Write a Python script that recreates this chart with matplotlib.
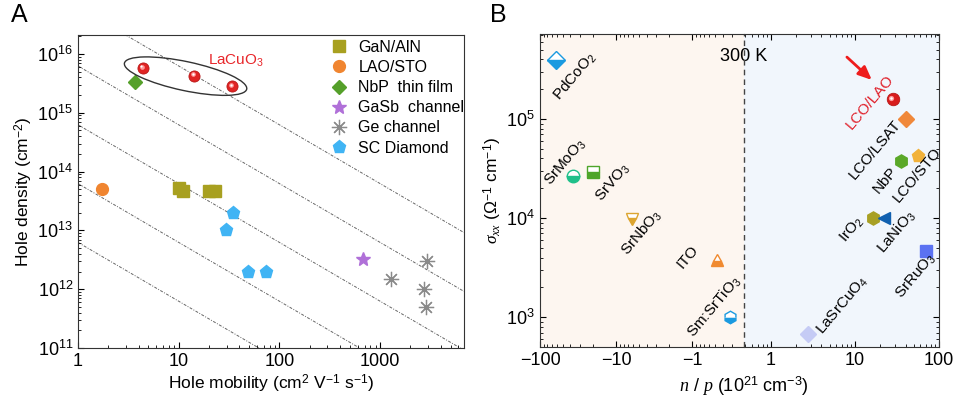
import numpy as np
import matplotlib
matplotlib.use("Agg")
import matplotlib.pyplot as plt
import matplotlib.transforms as mtransforms
from matplotlib.patches import Ellipse
from matplotlib.ticker import LogLocator, FuncFormatter, NullFormatter, FixedLocator

plt.rcParams['font.family'] = ['Liberation Sans', 'DejaVu Sans']
plt.rcParams['mathtext.fontset'] = 'custom'
plt.rcParams['mathtext.rm'] = 'Liberation Sans'
plt.rcParams['mathtext.it'] = 'Liberation Serif:italic'
plt.rcParams['mathtext.bf'] = 'Liberation Sans:bold'

# ---------------- Panel A data ----------------
lacuo_mu = [4.4, 14.2, 34]
lacuo_n = [5.8e15, 4.3e15, 2.8e15]
gan_mu = [10, 11, 20, 23]
gan_n = [5.3e13, 4.6e13, 4.6e13, 4.6e13]
lao_mu = [1.73]
lao_n = [5.0e13]
nbp_mu = [3.7]
nbp_n = [3.3e15]
gasb_mu = [680]
gasb_n = [3.3e12]
ge_mu = [1270, 2900, 2750, 2850]
ge_n = [1.5e12, 3.0e12, 1.0e12, 5.0e11]
dia_mu = [34.4, 29.5, 49, 73]
dia_n = [2.0e13, 1.0e13, 2.0e12, 2.0e12]
const_products = [6.25e12, 6.25e13, 6.25e14, 6.25e15, 6.25e16]

# ---------------- Panel B data ----------------
neg_names = ['PdCoO$_2$', 'SrMoO$_3$', 'SrVO$_3$', 'SrNbO$_3$', 'ITO', 'Sm:SrTiO$_3$']
neg_n = [62, 37, 20, 6.3, 0.47, 0.32]          # magnitude of negative n
neg_sigma = [3.9e5, 2.67e4, 2.9e4, 9.8e3, 3.8e3, 1.0e3]
neg_marker = ['D', 'o', 's', 'v', '^', 'h']
neg_color = ['#1a9ae0', '#1fc08a', '#4ea52a', '#dca530', '#f08a30', '#1a9ae0']
neg_lab_x = [34.9, 45.7, 11.1, 4.64, 1.16, 0.515]
neg_lab_y = [2.67e5, 3.6e4, 2.26e4, 7.05e3, 4.04e3, 1.26e3]

pos_names = ['LaSrCuO$_4$', 'LCO/LSAT', 'NbP', 'LCO/STO', 'IrO$_2$', 'LaNiO$_3$', 'SrRuO$_3$']
pos_p = [2.78, 40, 35, 57, 16.2, 22, 71]
pos_sigma = [675, 1.0e5, 3.8e4, 4.2e4, 1.0e4, 1.0e4, 4.7e3]
pos_marker = ['D', 'D', 'h', 'p', 'h', '<', 's']
pos_color = ['#c5cbf5', '#f0883a', '#5aa828', '#f2b23a', '#a8a024', '#1060b0', '#5b72f2']
pos_lab_x = [7.2, 17.3, 22.8, 54.7, 9.2, 31.6, 53.2]
pos_lab_y = [1.32e3, 4.86e4, 2.42e4, 2.72e4, 7.57e3, 7.2e3, 2.6e3]

lcolao_p = [28]
lcolao_sigma = [1.58e5]

fig = plt.figure(figsize=(9.57, 4.05), dpi=100)

# ================= Panel A =================
axA = fig.add_axes([0.0815, 0.1407, 0.4033, 0.7728])
axA.set_xscale('log')
axA.set_yscale('log')
axA.set_xlim(1, 6800)
axA.set_ylim(1e11, 2.1e16)

mu_line = np.logspace(0, np.log10(6800), 200)
for c in const_products:
    axA.plot(mu_line, c / mu_line, color='#666666', lw=0.7,
             ls=(0, (3, 1.5, 1, 1.5)), zorder=1)

def sphere(ax, x, y, ms, color='#e02424'):
    ax.plot(x, y, 'o', ms=ms, color=color, mec='#b81818', mew=0.6, zorder=4, ls='none')
    off = mtransforms.offset_copy(ax.transData, fig=fig, x=-0.8, y=0.9, units='points')
    ax.plot(x, y, 'o', ms=ms * 0.42, color='#ff9a9a', mec='none', zorder=5, ls='none', transform=off)
    off2 = mtransforms.offset_copy(ax.transData, fig=fig, x=-1.0, y=1.1, units='points')
    ax.plot(x, y, 'o', ms=ms * 0.2, color='white', mec='none', zorder=6, ls='none', transform=off2)

sphere(axA, lacuo_mu, lacuo_n, 8)

hG, = axA.plot(gan_mu, gan_n, 's', ms=8.5, color='#a8a020', ls='none', zorder=3)
hL, = axA.plot(lao_mu, lao_n, 'o', ms=8.5, color='#f08530', ls='none', zorder=3)
hN, = axA.plot(nbp_mu, nbp_n, 'D', ms=7.5, color='#55a02a', ls='none', zorder=3)
hS, = axA.plot(gasb_mu, gasb_n, '*', ms=10, color='#b070d8', ls='none', zorder=3)
hGe, = axA.plot(ge_mu, ge_n, marker=(8, 2, 0), ms=11, color='#8a8a8a', mew=0.9, ls='none', zorder=3)
hD, = axA.plot(dia_mu, dia_n, 'p', ms=9.5, color='#40b4f4', ls='none', zorder=3)

# ellipse around LaCuO3
ell = Ellipse((0, 0), width=1.25, height=0.29, angle=-12, fill=False, ec='#333333', lw=1.0,
              transform=fig.dpi_scale_trans + mtransforms.ScaledTranslation(11.7, 4.2e15, axA.transData),
              zorder=3)
axA.add_patch(ell)
axA.text(19.5, 7.6e15, 'LaCuO$_3$', color='#e8262a', fontsize=11, va='center', ha='left')

leg = axA.legend([hG, hL, hN, hS, hGe, hD],
                 ['GaN/AlN', 'LAO/STO', 'NbP  thin film', 'GaSb  channel', 'Ge channel', 'SC Diamond'],
                 loc='upper right', bbox_to_anchor=(1.03, 1.02), frameon=False, fontsize=11.5,
                 handlelength=1.0, handletextpad=0.7, labelspacing=0.32, borderaxespad=0.3)

axA.tick_params(which='both', direction='in', top=False, right=False, labelsize=13)
axA.tick_params(which='major', length=4)
axA.tick_params(which='minor', length=2)
axA.xaxis.set_major_formatter(FuncFormatter(lambda v, p: f"{v:g}"))
axA.set_xlabel('Hole mobility (cm$^2$ V$^{-1}$ s$^{-1}$)', fontsize=12.5, labelpad=2)
axA.set_ylabel('Hole density (cm$^{-2}$)', fontsize=12.5, labelpad=2)
for s in axA.spines.values():
    s.set_color('#333333')
fig.text(0.011, 0.962, 'A', fontsize=18, va='center', ha='left')

# ================= Panel B =================
ylo, yhi = 500, 7.2e5
axL = fig.add_axes([0.5643, 0.1432, 0.2132, 0.7728])
axR = fig.add_axes([0.7774, 0.1432, 0.2038, 0.7728])
for ax in (axL, axR):
    ax.set_xscale('log')
    ax.set_yscale('log')
    ax.set_ylim(ylo, yhi)
axL.set_xlim(100, 0.21)
axR.set_xlim(0.48, 100)
axL.set_facecolor('#fdf6f0')
axR.set_facecolor('#f1f6fc')

for i in range(len(neg_n)):
    axL.plot([neg_n[i]], [neg_sigma[i]], marker=neg_marker[i], ms=9, color=neg_color[i],
             mec=neg_color[i], mfc=neg_color[i], markerfacecoloralt='white', fillstyle='bottom',
             mew=1.0, ls='none', zorder=4, clip_on=False)
    axL.text(neg_lab_x[i], neg_lab_y[i], neg_names[i], rotation=50, fontsize=11,
             ha='center', va='center', rotation_mode='anchor', zorder=5)

for i in range(len(pos_p)):
    ms = 9.5 if pos_marker[i] in ('h', 'p') else 8.5
    axR.plot([pos_p[i]], [pos_sigma[i]], marker=pos_marker[i], ms=ms, color=pos_color[i],
             ls='none', zorder=4)
    axR.text(pos_lab_x[i], pos_lab_y[i], pos_names[i], rotation=50, fontsize=11,
             ha='center', va='center', rotation_mode='anchor', zorder=5)

sphere(axR, lcolao_p, lcolao_sigma, 9, color='#d81c1c')
axR.text(15.1, 1.49e5, 'LCO/LAO', rotation=50, fontsize=11, color='#e0202a',
         ha='center', va='center', rotation_mode='anchor', zorder=5)
axR.annotate('', xy=(16.8, 2.37e5), xytext=(7.6, 4.4e5),
             arrowprops=dict(arrowstyle='-|>,head_length=0.8,head_width=0.35', color='#ee1c1c', lw=2.0))

axR.text(0.48, 4.3e5, '300 K', fontsize=13, ha='center', va='center', zorder=6)

# dividing dashed line at the boundary
axR.axvline(0.48, color='#444444', lw=1.0, ls=(0, (4, 3)), zorder=10, clip_on=False)

# spines / ticks
axL.spines['right'].set_visible(False)
axR.spines['left'].set_visible(False)
for ax in (axL, axR):
    for k in ('top', 'bottom'):
        ax.spines[k].set_color('#333333')
axL.spines['left'].set_color('#333333')
axR.spines['right'].set_color('#333333')

axL.tick_params(which='both', direction='in', top=True, bottom=True, left=True, right=False, labelsize=13)
axR.tick_params(which='both', direction='in', top=True, bottom=True, left=False, right=True,
                labelleft=False, labelsize=13)
for ax in (axL, axR):
    ax.tick_params(which='major', length=4)
    ax.tick_params(which='minor', length=2)

axL.xaxis.set_major_locator(FixedLocator([100, 10, 1]))
axL.xaxis.set_major_formatter(FuncFormatter(lambda v, p: "\u2212" + f"{v:g}"))
axL.xaxis.set_minor_locator(LogLocator(base=10, subs=np.arange(2, 10), numticks=20))
axL.xaxis.set_minor_formatter(NullFormatter())
axR.xaxis.set_major_locator(FixedLocator([1, 10, 100]))
axR.xaxis.set_major_formatter(FuncFormatter(lambda v, p: f"{v:g}"))
axR.xaxis.set_minor_locator(LogLocator(base=10, subs=np.arange(2, 10), numticks=20))
axR.xaxis.set_minor_formatter(NullFormatter())
axR.yaxis.set_major_formatter(NullFormatter())
axR.yaxis.set_minor_formatter(NullFormatter())

axL.set_ylabel(r'$\sigma_{xx}$ ($\Omega^{-1}$ cm$^{-1}$)', fontsize=12.5, labelpad=2)
fig.text(0.7774, 0.045, r'$n$ / $p$ (10$^{21}$ cm$^{-3}$)', fontsize=13, ha='center', va='center')
fig.text(0.512, 0.962, 'B', fontsize=18, va='center', ha='left')

fig.savefig('out.png', dpi=100)
